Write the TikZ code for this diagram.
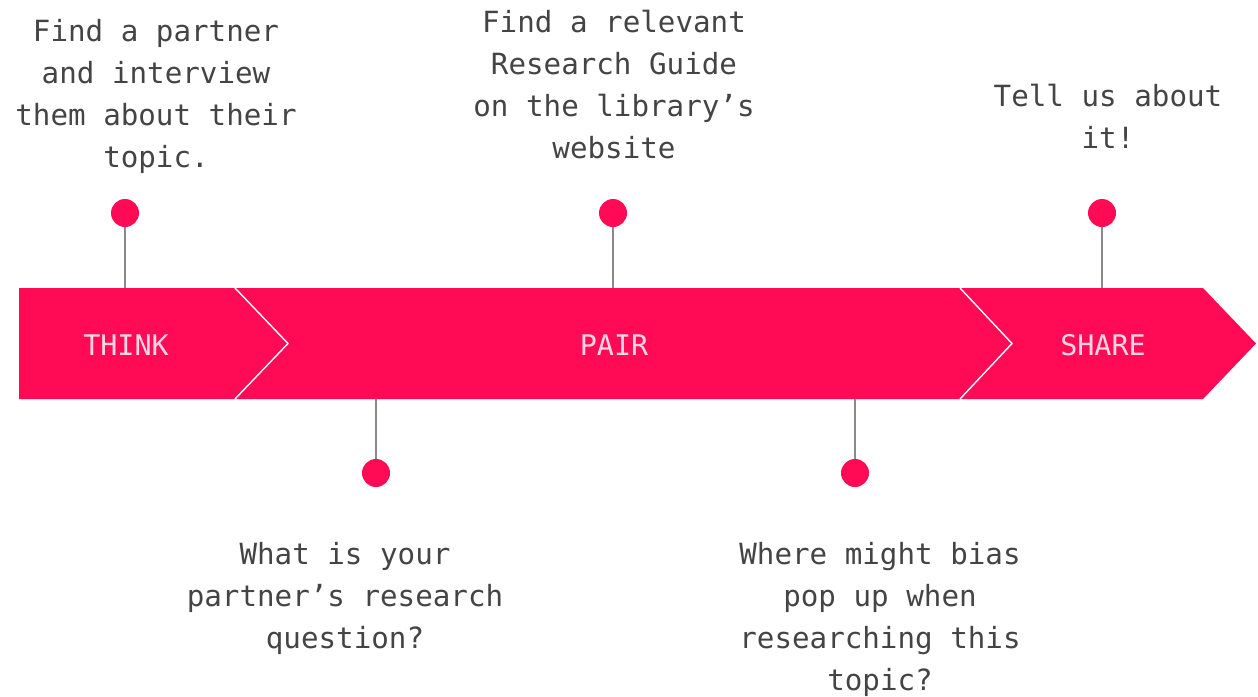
\documentclass[tikz,border=0pt]{standalone}
\usepackage{fontspec}
\setmonofont{DejaVu Sans Mono}
\definecolor{brandpink}{HTML}{FF0A54}
\definecolor{labelpink}{HTML}{FFD6E4}
\definecolor{txtgray}{HTML}{444444}
\definecolor{pingray}{HTML}{8A8A8A}
\tikzset{
  note/.style={align=center, text=txtgray, inner sep=0pt,
    font=\ttfamily\fontsize{14.6}{21}\selectfont},
  phase/.style={text=labelpink, inner sep=0pt,
    font=\ttfamily\fontsize{14.2}{17}\selectfont},
  pin/.style={circle, fill=brandpink, minimum size=14pt, inner sep=0pt},
  stem/.style={draw=pingray, line width=0.8pt},
  chevron/.style={draw=white, line width=0.7pt}
}
\begin{document}
\begin{tikzpicture}[x=0.5pt,y=-0.5pt]
\useasboundingbox (0,0) rectangle (1258,696);
% band
\fill[brandpink] (19,288) -- (1203,288) -- (1256,343.5) -- (1203,399) -- (19,399) -- cycle;
\draw[chevron] (235,288) -- (288,343.5) -- (235,399);
\draw[chevron] (960,288) -- (1012,343.5) -- (960,399);
\node[phase] (think) at (126,345) {THINK};
\node[phase] (pair) at (614,345) {PAIR};
\node[phase] (share) at (1103,345) {SHARE};
% band attachment points
\coordinate (t1) at (125,288);
\coordinate (t2) at (613,288);
\coordinate (t3) at (1102,288);
\coordinate (b1) at (376,399);
\coordinate (b2) at (855,399);
% pins
\node[pin] (p1) at (125,213) {};
\node[pin] (p2) at (613,213) {};
\node[pin] (p3) at (1102,213) {};
\node[pin] (p4) at (376,473) {};
\node[pin] (p5) at (855,473) {};
\draw[stem] (p1) -- (t1);
\draw[stem] (p2) -- (t2);
\draw[stem] (p3) -- (t3);
\draw[stem] (p4) -- (b1);
\draw[stem] (p5) -- (b2);
% notes
\node[note] (n1) at (156,96) {Find a partner\\and interview\\them about their\\topic.};
\node[note] (n2) at (614,85) {Find a relevant\\Research Guide\\on the library’s\\website};
\node[note] (n3) at (1108,116) {Tell us about\\it!};
\node[note] (n4) at (345,598) {What is your\\partner’s research\\question?};
\node[note] (n5) at (880,619) {Where might bias\\pop up when\\researching this\\topic?};
\end{tikzpicture}
\end{document}
